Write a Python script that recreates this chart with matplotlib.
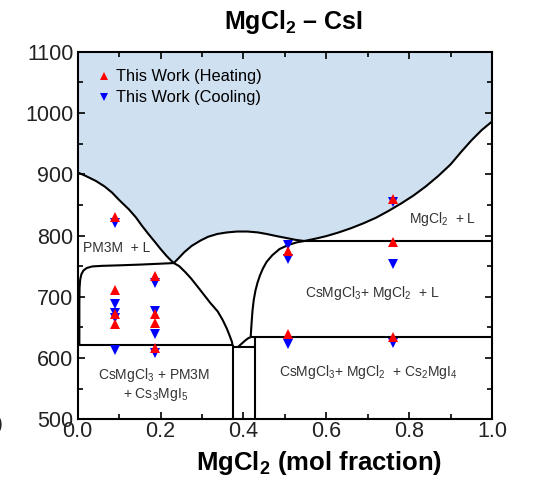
import matplotlib
matplotlib.use("Agg")
import matplotlib.pyplot as plt
from matplotlib.ticker import MultipleLocator, FormatStrFormatter

plt.rcParams['font.family'] = ['Liberation Sans', 'DejaVu Sans']
plt.rcParams['mathtext.fontset'] = 'custom'
plt.rcParams['mathtext.rm'] = 'Liberation Sans'
plt.rcParams['mathtext.it'] = 'Liberation Sans:italic'
plt.rcParams['mathtext.bf'] = 'Liberation Sans:bold'
plt.rcParams['mathtext.default'] = 'regular'

# ---- measured thermal events (mol fraction MgCl2, temperature in °C) ----
heat_x = [0.09, 0.09, 0.09, 0.09,
          0.187, 0.187, 0.187, 0.187,
          0.508, 0.508,
          0.76, 0.76, 0.76]
heat_T = [830, 711, 672, 656,
          734, 672, 657, 617,
          774, 639,
          860, 789, 634]

cool_x = [0.09, 0.09, 0.09, 0.09, 0.09,
          0.187, 0.187, 0.187, 0.187,
          0.508, 0.508, 0.508,
          0.76, 0.76, 0.76]
cool_T = [820, 689, 674, 666, 613,
          723, 677, 639, 609,
          784, 761, 623,
          854, 754, 624]

# ---- calculated phase boundaries ----
liq_left_x = [0.0, 0.02, 0.044, 0.065, 0.083, 0.10, 0.123, 0.14, 0.155, 0.17,
              0.187, 0.20, 0.214, 0.224, 0.232]
liq_left_T = [903, 897, 889, 880, 870, 858, 843, 830, 816, 803,
              789, 778, 767, 760, 755]

dome_x = [0.232, 0.245, 0.2576, 0.275, 0.297, 0.315, 0.337, 0.36, 0.385, 0.41,
          0.435, 0.456, 0.48, 0.503, 0.525, 0.547]
dome_T = [755, 764, 773, 783, 792, 798, 802.5, 805, 806.5, 806.5,
          805, 802.5, 799, 796, 793, 791]

liq_right_x = [0.547, 0.575, 0.60, 0.63, 0.66, 0.69, 0.72, 0.75, 0.78, 0.81,
               0.84, 0.87, 0.90, 0.925, 0.95, 0.975, 1.0]
liq_right_T = [791, 795, 799, 805, 812, 820, 829, 840, 852, 865,
               880, 897, 916, 936, 955, 972, 986]

pm3m_sol_x = [0.004, 0.004, 0.0045, 0.006, 0.009, 0.014, 0.022, 0.035, 0.06,
              0.10, 0.15, 0.20, 0.232]
pm3m_sol_T = [621, 690, 715, 728, 737, 743, 747, 749.5, 750.5,
              751.3, 752.5, 754, 755]

pm3m_low_x = [0.232, 0.245, 0.26, 0.2735, 0.29, 0.305, 0.32, 0.338, 0.35,
              0.36, 0.367, 0.372, 0.374]
pm3m_low_T = [755, 750, 740, 730, 716, 703, 690, 676, 662,
              648, 636, 627, 621]

csmg_liq_x = [0.547, 0.53, 0.51, 0.4874, 0.47, 0.456, 0.447, 0.44, 0.434,
              0.429, 0.425, 0.422, 0.42, 0.4185, 0.4175]
csmg_liq_T = [791, 789, 785, 778, 768, 757, 746, 735, 723,
              710, 695, 678, 660, 645, 634]

small_x = [0.386, 0.395, 0.405, 0.412, 0.4175]
small_T = [617.5, 623, 629, 632.5, 634]

T_upper_eut = 791
T_mid_eut = 634
T_low_eut = 621
T_box = 617.5
x_left_cmp = 0.374
x_right_cmp = 0.428

fig = plt.figure(figsize=(5.33, 4.8), dpi=100)
ax = fig.add_axes([77.7 / 533, 1 - 419.3 / 480, (492 - 77.7) / 533, (419.3 - 51.7) / 480])

# liquid region
fill_x = liq_left_x + dome_x[1:] + liq_right_x[1:] + [1.0, 0.0]
fill_T = liq_left_T + dome_T[1:] + liq_right_T[1:] + [1100, 1100]
ax.fill(fill_x, fill_T, color='#cfe0f1', lw=0, zorder=0)

lk = dict(color='black', lw=1.5, zorder=2, solid_capstyle='butt', solid_joinstyle='round')
ax.plot(liq_left_x, liq_left_T, **lk)
ax.plot(dome_x, dome_T, **lk)
ax.plot(liq_right_x, liq_right_T, **lk)
ax.plot(pm3m_sol_x, pm3m_sol_T, **lk)
ax.plot(pm3m_low_x, pm3m_low_T, **lk)
ax.plot(csmg_liq_x, csmg_liq_T, **lk)
ax.plot(small_x, small_T, **lk)
ax.plot([dome_x[-1], 1.0], [T_upper_eut, T_upper_eut], **lk)
ax.plot([csmg_liq_x[-1], 1.0], [T_mid_eut, T_mid_eut], **lk)
ax.plot([0.0, x_left_cmp], [T_low_eut, T_low_eut], **lk)
ax.plot([x_left_cmp, x_right_cmp], [T_box, T_box], **lk)
ax.plot([x_left_cmp, x_left_cmp], [500, T_low_eut], **lk)
ax.plot([x_right_cmp, x_right_cmp], [500, T_mid_eut], **lk)

# experimental points
ax.plot(cool_x, cool_T, 'v', color='#0000ff', ms=7, mew=0, ls='none', zorder=3,
        label='This Work (Cooling)')
ax.plot(heat_x, heat_T, '^', color='#ff0000', ms=7, mew=0, ls='none', zorder=4,
        label='This Work (Heating)')

h, l = ax.get_legend_handles_labels()
ax.legend([h[1], h[0]], [l[1], l[0]], loc='upper left', bbox_to_anchor=(0.052, 0.952),
          frameon=False, fontsize=11.8, handlelength=0.6, handletextpad=0.4,
          labelspacing=0.37, borderpad=0, borderaxespad=0, markerscale=0.85)

# phase field labels
tc = '#333333'
ax.text(0.012, 779, 'PM3M  + L', fontsize=10, color=tc, ha='left', va='center')
ax.text(0.88, 826.5, 'MgCl$_2$  + L', fontsize=10, color=tc, ha='center', va='center')
ax.text(0.712, 705.5, 'CsMgCl$_3$+ MgCl$_2$  + L', fontsize=10, color=tc, ha='center', va='center')
ax.text(0.185, 572, 'CsMgCl$_3$ + PM3M', fontsize=10, color=tc, ha='center', va='center')
ax.text(0.188, 541, '+ Cs$_3$MgI$_5$', fontsize=10, color=tc, ha='center', va='center')
ax.text(0.701, 576.5, 'CsMgCl$_3$+ MgCl$_2$  + Cs$_2$MgI$_4$', fontsize=10, color=tc,
        ha='center', va='center')

ax.set_xlim(0, 1)
ax.set_ylim(500, 1100)
ax.xaxis.set_major_locator(MultipleLocator(0.2))
ax.xaxis.set_minor_locator(MultipleLocator(0.1))
ax.yaxis.set_major_locator(MultipleLocator(100))
ax.yaxis.set_minor_locator(MultipleLocator(50))
ax.xaxis.set_major_formatter(FormatStrFormatter('%.1f'))
ax.tick_params(which='both', direction='in', top=True, right=True, width=1.2,
               labelsize=15.5, labelcolor='#222222')
ax.tick_params(which='major', length=5)
ax.tick_params(which='minor', length=3.5)
ax.tick_params(axis='x', pad=1)
ax.tick_params(axis='y', pad=3)
for s in ax.spines.values():
    s.set_linewidth(1.5)

fig.text(293 / 533, 1 - 28.5 / 480, r'MgCl$_\mathbf{2}$ – CsI', fontsize=18, weight='bold',
         ha='center', va='baseline')
fig.text(319 / 533, 1 - 470 / 480, r'MgCl$_\mathbf{2}$ (mol fraction)', fontsize=18.5,
         weight='bold', ha='center', va='baseline')
fig.text(-1 / 533, 1 - 425 / 480, ')', fontsize=15, color='#222222', ha='center', va='center')

fig.savefig('out.png', dpi=100)
